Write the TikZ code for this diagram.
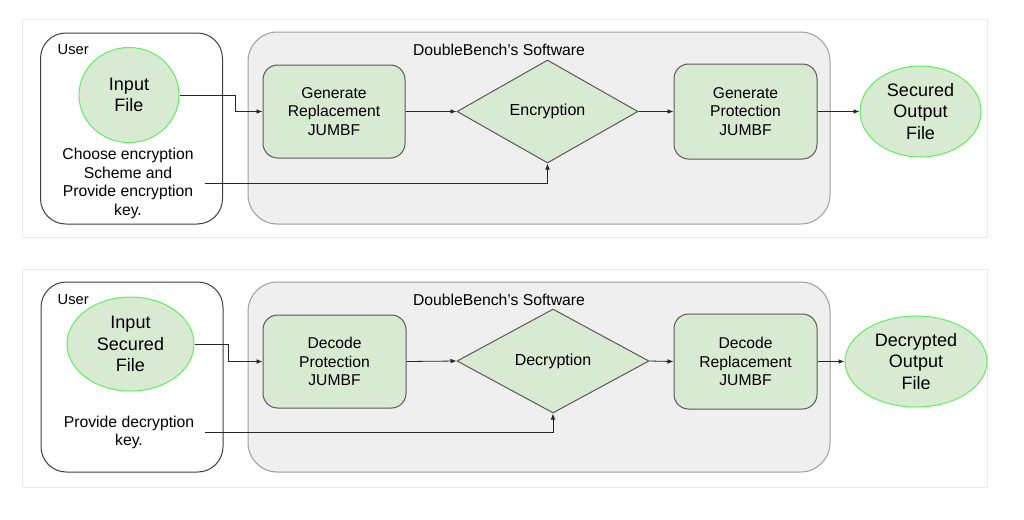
\documentclass[tikz,border=0pt]{standalone}
\usepackage{fontspec}
\setmainfont{Liberation Sans}
\usepackage{tikz}
\usetikzlibrary{arrows.meta,calc,shapes.geometric,positioning,fit}
\definecolor{boxgreen}{HTML}{D9EAD3}
\definecolor{ringgreen}{HTML}{5EF05E}
\definecolor{boxline}{HTML}{595959}
\definecolor{softfill}{HTML}{EFEFEF}
\definecolor{softline}{HTML}{9E9E9E}
\definecolor{frameline}{HTML}{EAEAEA}

\begin{document}
\begin{tikzpicture}[x=0.75pt,y=-0.75pt,
  panel/.style={draw=frameline,line width=0.6pt},
  userbox/.style={draw=black!75,line width=0.75pt,rounded corners=19pt,minimum width=136.5pt,inner sep=0pt},
  softbox/.style={draw=softline,fill=softfill,line width=0.75pt,rounded corners=22pt,minimum width=436.5pt,inner sep=0pt},
  filenode/.style={ellipse,draw=ringgreen,fill=boxgreen,line width=0.75pt,inner sep=0pt,align=center,font=\fontsize{13.5}{16.3}\selectfont},
  stepbox/.style={draw=boxline,fill=boxgreen,line width=0.75pt,rounded corners=11pt,inner sep=0pt,align=center,font=\fontsize{11.75}{13.9}\selectfont},
  cryptnode/.style={diamond,draw=boxline,fill=boxgreen,line width=0.75pt,inner sep=0pt,font=\fontsize{12}{14}\selectfont},
  plaintext/.style={align=center,inner ysep=0pt,inner xsep=8pt,font=\fontsize{11.8}{13.9}\selectfont},
  flow/.style={draw=black!85,line width=0.6pt,-{Latex[length=4.5pt,width=3.5pt]}}]
\useasboundingbox[fill=white] (0,0) rectangle (1024,519);

% encryption
\draw[panel] (22,19) rectangle (987,237);
\node[userbox,minimum height=143.25pt] (userA) at (131.5,128.5) {};
\node[softbox,minimum height=144pt] (softA) at (539,128) {};
\node[anchor=west,font=\fontsize{11}{12}\selectfont] (userlabelA) at (53,50) {User};
\node[font=\fontsize{11.8}{13}\selectfont] (softlabelA) at (499,50) {DoubleBench’s Software};
\node[filenode,minimum width=75pt,minimum height=71.25pt] (inA) at (129,95) {Input\\File};
\node[plaintext] (keyA) at (128,183.5) {Choose encryption\\Scheme and\\Provide encryption\\key.};
\node[stepbox,minimum width=106.5pt,minimum height=69.75pt] (genR) at (334,111.5) {Generate\\Replacement\\JUMBF};
\node[cryptnode,minimum width=135.75pt,minimum height=77.25pt] (enc) at (547.5,111.5) {Encryption};
\node[stepbox,minimum width=107.25pt,minimum height=71.25pt] (genP) at (745.5,111.5) {Generate\\Protection\\JUMBF};
\node[filenode,minimum width=90.75pt,minimum height=68.25pt] (outA) at (920.5,111.5) {Secured\\Output\\File};
\draw[flow] (inA.east) -- ++(56,0) |- (genR.west);
\draw[flow] (genR.east) -- (enc.west);
\draw[flow] (enc.east) -- (genP.west);
\draw[flow] (genP.east) -- (outA.west);
\draw[flow] (keyA.east) -| (enc.south);

% decryption
\draw[panel] (22,269) rectangle (987,487);
\node[userbox,minimum height=142.5pt] (userB) at (132,377) {};
\node[softbox,minimum height=142.5pt] (softB) at (539,377) {};
\node[anchor=west,font=\fontsize{11}{12}\selectfont] (userlabelB) at (53,300) {User};
\node[font=\fontsize{11.8}{13}\selectfont] (softlabelB) at (499,300) {DoubleBench’s Software};
\node[filenode,minimum width=95.25pt,minimum height=70.5pt] (inB) at (130.5,344) {Input\\Secured\\File};
\node[plaintext] (keyB) at (129,432.5) {Provide decryption\\key.};
\node[stepbox,minimum width=107.25pt,minimum height=69.75pt] (decP) at (334.5,361.5) {Decode\\Protection\\JUMBF};
\node[cryptnode,minimum width=144pt,minimum height=78pt] (dec) at (553,361) {Decryption};
\node[stepbox,minimum width=107.25pt,minimum height=71.25pt] (decR) at (745.5,361.5) {Decode\\Replacement\\JUMBF};
\node[filenode,minimum width=106.5pt,minimum height=68.25pt] (outB) at (916,361.5) {Decrypted\\Output\\File};
\draw[flow] (inB.east) -- ++(34,0) |- (decP.west);
\draw[flow] (decP.east) -- (dec.west);
\draw[flow] (dec.east) -- (decR.west);
\draw[flow] (decR.east) -- (outB.west);
\draw[flow] (keyB.east) -| (dec.south);
\end{tikzpicture}
\end{document}
